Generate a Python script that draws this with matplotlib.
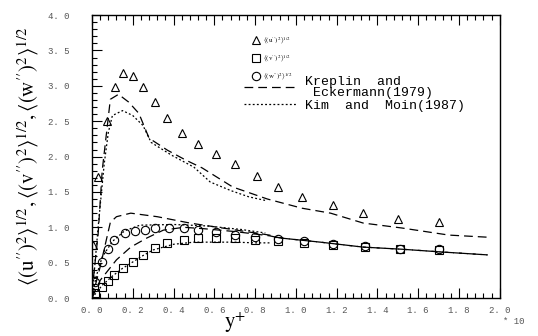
# -*- coding: utf-8 -*-

import matplotlib.pyplot as plt
from matplotlib.ticker import MultipleLocator, FuncFormatter
from matplotlib.lines import Line2D

u_x = [0.005, 0.03, 0.074, 0.113, 0.152, 0.20, 0.25, 0.31, 0.37, 0.44, 0.52, 0.61,
       0.70, 0.81, 0.91, 1.03, 1.18, 1.33, 1.50, 1.70]
u_y = [0.75, 1.71, 2.51, 2.99, 3.18, 3.14, 2.98, 2.77, 2.54, 2.33, 2.18, 2.03,
       1.89, 1.72, 1.57, 1.43, 1.31, 1.20, 1.12, 1.07]

v_x = [0.015, 0.05, 0.08, 0.11, 0.15, 0.20, 0.25, 0.31, 0.37, 0.45, 0.52, 0.61,
       0.70, 0.80, 0.91, 1.04, 1.18, 1.34, 1.51, 1.70]
v_y = [0.07, 0.16, 0.24, 0.32, 0.42, 0.51, 0.61, 0.71, 0.78, 0.82, 0.85, 0.85,
       0.85, 0.82, 0.81, 0.78, 0.75, 0.72, 0.69, 0.68]

w_x = [0.015, 0.05, 0.08, 0.11, 0.16, 0.21, 0.26, 0.31, 0.38, 0.45, 0.52, 0.61,
       0.70, 0.80, 0.91, 1.04, 1.18, 1.34, 1.51, 1.70]
w_y = [0.23, 0.51, 0.69, 0.82, 0.92, 0.95, 0.96, 0.99, 0.99, 0.99, 0.96, 0.93,
       0.89, 0.86, 0.83, 0.80, 0.77, 0.73, 0.70, 0.69]

# Kreplin and Eckermann (1979)
ke_u_x = [0.0, 0.03, 0.05, 0.09, 0.13, 0.18, 0.23, 0.28, 0.37, 0.46, 0.54, 0.69,
          0.86, 1.03, 1.17, 1.33, 1.52, 1.75, 1.94]
ke_u_y = [0.1, 0.9, 1.8, 2.81, 2.88, 2.77, 2.61, 2.26, 2.09, 1.95, 1.84, 1.57,
          1.40, 1.27, 1.20, 1.06, 0.99, 0.89, 0.86]
ke_v_x = [0.0, 0.04, 0.12, 0.19, 0.27, 0.35, 0.45, 0.55, 0.70, 0.87, 0.92, 1.12,
          1.33, 1.52, 1.72, 1.94]
ke_v_y = [0.0, 0.25, 0.54, 0.72, 0.85, 0.96, 1.0, 0.98, 0.94, 0.88, 0.85, 0.79,
          0.72, 0.69, 0.65, 0.61]
ke_w_x = [0.0, 0.04, 0.09, 0.12, 0.19, 0.32, 0.48, 0.64, 0.87, 0.92, 1.12, 1.33,
          1.52, 1.72, 1.94]
ke_w_y = [0.0, 0.44, 1.07, 1.15, 1.20, 1.15, 1.06, 0.99, 0.89, 0.85, 0.79, 0.72,
          0.69, 0.65, 0.61]

# Kim and Moin (1987)
km_u_x = [0.0, 0.03, 0.06, 0.08, 0.10, 0.15, 0.20, 0.25, 0.29, 0.39, 0.50, 0.58,
          0.68, 0.77, 0.85]
km_u_y = [0.0, 1.0, 1.9, 2.34, 2.58, 2.65, 2.58, 2.44, 2.20, 2.02, 1.85, 1.64,
          1.52, 1.43, 1.38]
km_v_x = [0.0, 0.05, 0.10, 0.15, 0.20, 0.25, 0.30, 0.40, 0.50, 0.60, 0.70, 0.80, 0.88]
km_v_y = [0.0, 0.18, 0.31, 0.42, 0.51, 0.60, 0.68, 0.76, 0.79, 0.79, 0.79, 0.78, 0.78]
km_w_x = [0.0, 0.02, 0.05, 0.10, 0.16, 0.235, 0.40, 0.56, 0.73, 0.85]
km_w_y = [0.0, 0.30, 0.58, 0.80, 0.95, 1.03, 1.04, 1.02, 0.97, 0.92]

plt.rcParams['mathtext.fontset'] = 'stix'

fig = plt.figure(figsize=(5.38, 3.36), dpi=100)
ax = fig.add_axes([0.171, 0.113, 0.758, 0.842])

ke_style = dict(color='black', lw=0.9, dashes=(7, 4))
km_style = dict(color='black', lw=0.9, dashes=(1.5, 1.8))
ax.plot(ke_u_x, ke_u_y, **ke_style)
ax.plot(ke_v_x, ke_v_y, **ke_style)
ax.plot(ke_w_x, ke_w_y, **ke_style)
ax.plot(km_u_x, km_u_y, **km_style)
ax.plot(km_v_x, km_v_y, **km_style)
ax.plot(km_w_x, km_w_y, **km_style)

mk = dict(ls='none', mfc='none', mec='black', mew=0.8)
ax.plot(u_x, u_y, marker='^', ms=6, **mk)
ax.plot(v_x, v_y, marker='s', ms=5.5, **mk)
ax.plot(w_x, w_y, marker='o', ms=6, **mk)

ax.set_xlim(0, 2.0)
ax.set_ylim(0, 4.0)
ax.xaxis.set_major_locator(MultipleLocator(0.2))
ax.xaxis.set_minor_locator(MultipleLocator(0.04))
ax.yaxis.set_major_locator(MultipleLocator(0.5))
ax.yaxis.set_minor_locator(MultipleLocator(0.1))
fmt = FuncFormatter(lambda v, p: ('%.1f' % v).replace('.', '. '))
ax.xaxis.set_major_formatter(fmt)
ax.yaxis.set_major_formatter(fmt)
ax.tick_params(which='both', direction='in', top=True, right=False,
               colors='black', labelcolor='#555555', labelsize=6.5, width=0.8)
ax.tick_params(which='major', length=7)
ax.tick_params(which='minor', length=3.5)
ax.tick_params(axis='x', pad=6)
ax.tick_params(axis='y', pad=16)
for lab in ax.get_xticklabels() + ax.get_yticklabels():
    lab.set_family('Liberation Mono')
for s in ax.spines.values():
    s.set_linewidth(1.0)

ax.set_ylabel(r'$\left\langle(\mathrm{u}^{\prime\prime})^2\right\rangle^{1/2}'
              r',\left\langle(\mathrm{v}^{\prime\prime})^2\right\rangle^{1/2}'
              r',\left\langle(\mathrm{w}^{\prime\prime})^2\right\rangle^{1/2}$',
              fontsize=15)
ax.yaxis.set_label_coords(-0.125, 0.5)
ax.set_xlabel(r'$\mathrm{y}^{+}$', fontsize=15)
ax.xaxis.set_label_coords(0.35, -0.045)
fig.text(0.955, 0.035, '* 10', fontsize=6.5, family='Liberation Mono',
         color='#555555', ha='center')

mark_handles = [
    Line2D([], [], marker='^', ms=6, **mk),
    Line2D([], [], marker='s', ms=5.5, **mk),
    Line2D([], [], marker='o', ms=6, **mk),
]
mark_labels = [
    r'$\langle(\mathrm{u}^{\prime\prime})^2\rangle^{1/2}$',
    r'$\langle(\mathrm{v}^{\prime\prime})^2\rangle^{1/2}$',
    r'$\langle(\mathrm{w}^{\prime\prime})^2\rangle^{1/2}$',
]
leg1 = ax.legend(mark_handles, mark_labels, loc='upper left',
                 bbox_to_anchor=(0.385, 0.94), frameon=False,
                 handlelength=1.2, handletextpad=0.4, labelspacing=1.05,
                 borderaxespad=0, prop={'size': 5})
ax.add_artist(leg1)

line_handles = [Line2D([], [], **ke_style), Line2D([], [], **km_style)]
line_labels = ['Kreplin  and\n Eckermann(1979)', 'Kim  and  Moin(1987)']
leg2 = ax.legend(line_handles, line_labels, loc='upper left',
                 bbox_to_anchor=(0.36, 0.805), frameon=False,
                 handlelength=3.9, handletextpad=0.7, labelspacing=0.05,
                 borderaxespad=0,
                 prop={'family': 'Liberation Mono', 'size': 9.5})
for t in leg2.get_texts():
    t.set_linespacing(0.95)

plt.savefig('out.png', dpi=100)
